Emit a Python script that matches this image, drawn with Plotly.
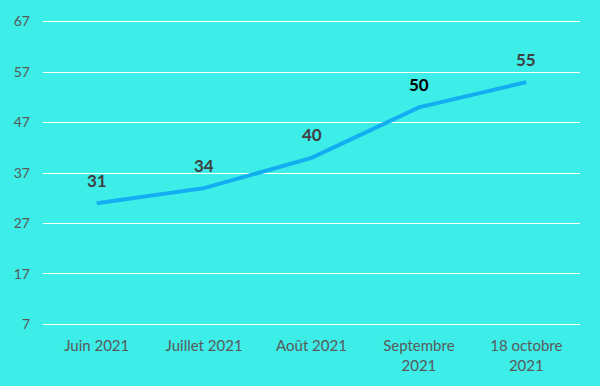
import plotly.graph_objects as go

categories = ["Juin 2021", "Juillet 2021", "Août 2021", "Septembre<br>2021", "18 octobre<br>2021"]
values = [31, 34, 40, 50, 55]
label_colors = ["#404040", "#404040", "#404040", "#000000", "#404040"]
y_ticks = [7, 17, 27, 37, 47, 57, 67]

fig = go.Figure()
fig.add_trace(go.Scatter(
    x=categories, y=values, mode="lines",
    line=dict(color="#12AEF2", width=4),
    hoverinfo="skip", showlegend=False,
))
for c, v, col in zip(categories, values, label_colors):
    fig.add_annotation(x=c, y=v, text=f"<b>{v}</b>", showarrow=False,
                       yshift=23, font=dict(size=17, color=col, family="Lato, Open Sans, sans-serif"))

fig.update_layout(
    width=600, height=386,
    paper_bgcolor="#3DEDE8", plot_bgcolor="#3DEDE8",
    margin=dict(l=43, r=20, t=18, b=60),
    font=dict(family="Lato, Open Sans, sans-serif", color="#595959", size=14),
    xaxis=dict(showgrid=False, showline=False, zeroline=False, ticks="",
               range=[-0.5, 4.5], ticklabelstandoff=9,
               tickfont=dict(size=15, color="#595959")),
    yaxis=dict(range=[6.7, 67.3], tickvals=y_ticks, showgrid=True, gridcolor="#FFFFFF",
               gridwidth=1.3, zeroline=False, showline=False, ticks="",
               tickfont=dict(size=14, color="#595959"), ticklabelstandoff=12),
)
fig.write_html("out.html", config={"displayModeBar": False},
               post_script="document.body.style.margin='0';")
